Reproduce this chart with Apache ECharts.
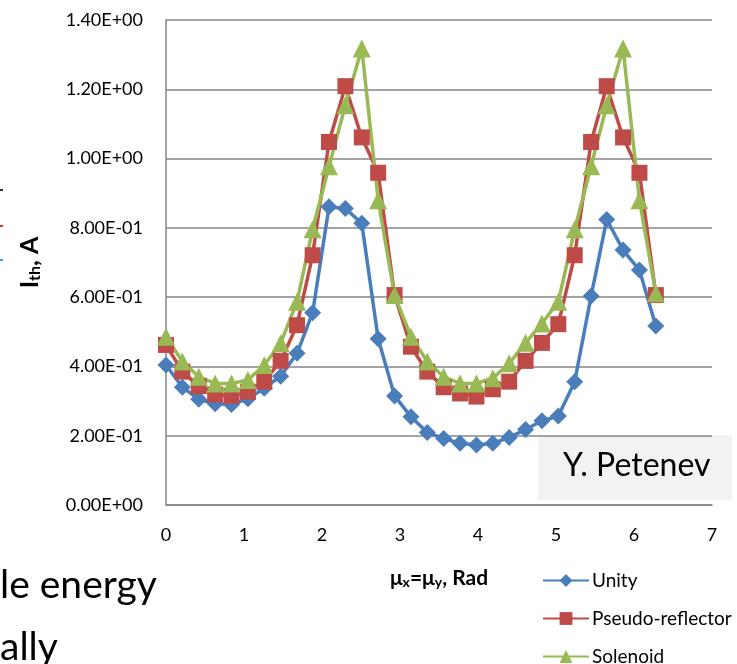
<!DOCTYPE html>
<html>
<head>
<meta charset="utf-8">
<script src="https://cdn.jsdelivr.net/npm/echarts@6/dist/echarts.min.js"></script>
<style>
  html, body { margin: 0; padding: 0; background: #fff; }
  #chart { width: 737px; height: 664px; }
</style>
</head>
<body>
<div id="chart"></div>
<script>
// phase advance mu, rad (31 points from 0 to 2*pi)
var mu = [0, 0.21, 0.42, 0.63, 0.84, 1.05, 1.26, 1.47, 1.68, 1.88, 2.09, 2.30, 2.51, 2.72, 2.93, 3.14,
          3.35, 3.56, 3.77, 3.98, 4.19, 4.40, 4.61, 4.82, 5.03, 5.24, 5.45, 5.65, 5.86, 6.07, 6.28];

var unity = [0.404, 0.34, 0.305, 0.292, 0.29, 0.307, 0.337, 0.372, 0.438, 0.555, 0.861, 0.856, 0.813, 0.48, 0.315, 0.255,
             0.209, 0.192, 0.178, 0.173, 0.178, 0.195, 0.218, 0.243, 0.257, 0.356, 0.603, 0.824, 0.736, 0.678, 0.517];

var pseudoReflector = [0.462, 0.385, 0.343, 0.319, 0.315, 0.327, 0.356, 0.416, 0.519, 0.721, 1.048, 1.209, 1.061, 0.959, 0.606, 0.457,
                       0.385, 0.34, 0.322, 0.313, 0.334, 0.356, 0.416, 0.468, 0.522, 0.721, 1.048, 1.209, 1.061, 0.959, 0.606];

var solenoid = [0.486, 0.414, 0.37, 0.351, 0.351, 0.361, 0.404, 0.467, 0.587, 0.796, 0.978, 1.154, 1.318, 0.88, 0.606, 0.486,
                0.414, 0.37, 0.351, 0.351, 0.366, 0.409, 0.468, 0.524, 0.587, 0.796, 0.978, 1.154, 1.318, 0.88, 0.611];

var seriesNames = ['Unity', 'Pseudo-reflector', 'Solenoid'];

function pairs(ys) {
    return mu.map(function (x, i) { return [x, ys[i]]; });
}

// Excel style scientific labels: 1.40E+00
function sci(v) {
    if (v === 0) return '0.00E+00';
    var e = Math.floor(Math.log10(Math.abs(v)) + 1e-9);
    var m = v / Math.pow(10, e);
    var s = e < 0 ? '-' : '+';
    var ea = Math.abs(e);
    return m.toFixed(2) + 'E' + s + (ea < 10 ? '0' : '') + ea;
}

var font = 'Lato, "Open Sans", sans-serif';

var myChart = echarts.init(document.getElementById('chart'));
myChart.setOption({
    animation: false,
    backgroundColor: '#ffffff',
    grid: { left: 166, right: 25, top: 20, bottom: 159 },
    xAxis: {
        type: 'value',
        min: 0, max: 7, interval: 1,
        name: '{b|μ}{s|x}{b|=μ}{s|y}{b|, Rad}',
        nameLocation: 'middle',
        nameGap: 62,
        nameTextStyle: {
            rich: {
                b: { fontFamily: font, fontSize: 21, fontWeight: 'bold', color: '#000' },
                s: { fontFamily: font, fontSize: 14, fontWeight: 'bold', color: '#000', padding: [8, 0, 0, 0] }
            }
        },
        axisLine: { show: true, lineStyle: { color: '#868686', width: 1.5 } },
        axisTick: { show: false },
        splitLine: { show: false },
        axisLabel: { margin: 21, fontFamily: font, fontSize: 18, color: '#000' }
    },
    yAxis: {
        type: 'value',
        min: 0, max: 1.4, interval: 0.2,
        name: '{b|I}{s|th}{b|, A}',
        nameLocation: 'middle',
        nameGap: 123,
        nameRotate: 90,
        nameTextStyle: {
            rich: {
                b: { fontFamily: font, fontSize: 25, fontWeight: 'bold', color: '#000' },
                s: { fontFamily: font, fontSize: 16, fontWeight: 'bold', color: '#000', padding: [10, 0, 0, 0] }
            }
        },
        axisLine: { show: true, lineStyle: { color: '#868686', width: 1.5 } },
        axisTick: { show: false },
        splitLine: { show: true, lineStyle: { color: '#868686', width: 1.5 } },
        axisLabel: { margin: 23, fontFamily: font, fontSize: 18, color: '#000', formatter: sci }
    },
    legend: {
        orient: 'vertical',
        left: 542,
        top: 570,
        height: 120,
        padding: 0,
        itemGap: 17,
        itemWidth: 46,
        itemHeight: 16,
        data: seriesNames,
        textStyle: { fontFamily: font, fontSize: 19, lineHeight: 21, color: '#000', padding: [0, 0, 0, -2] }
    },
    series: [
        {
            name: seriesNames[0], type: 'line', data: pairs(unity),
            symbol: 'diamond', symbolSize: 17,
            clip: false,
            lineStyle: { color: '#4a7ebb', width: 3.5 },
            itemStyle: { color: '#4a7ebb' }
        },
        {
            name: seriesNames[1], type: 'line', data: pairs(pseudoReflector),
            symbol: 'rect', symbolSize: 16,
            clip: false,
            lineStyle: { color: '#be4b48', width: 3.5 },
            itemStyle: { color: '#be4b48' }
        },
        {
            name: seriesNames[2], type: 'line', data: pairs(solenoid),
            symbol: 'triangle', symbolSize: 18,
            clip: false,
            lineStyle: { color: '#98b954', width: 3.5 },
            itemStyle: { color: '#98b954' }
        }
    ],
    graphic: [
        // author tag box
        { type: 'rect', left: 538, top: 435, shape: { width: 194, height: 65 }, style: { fill: '#f2f2f2' } },
        { type: 'text', left: 563, top: 450, style: { text: 'Y. Petenev', font: '32px ' + font, fill: '#000' } },
        // cropped slide text on the left
        { type: 'text', left: 0, top: 566, style: { text: 'le energy', font: '39px ' + font, fill: '#000' } },
        { type: 'text', left: 0, top: 628, style: { text: 'ally', font: '39px ' + font, fill: '#000' } },
        { type: 'rect', left: 0, top: 189, shape: { width: 3, height: 2 }, style: { fill: '#333' } },
        { type: 'rect', left: 0, top: 225, shape: { width: 3, height: 2 }, style: { fill: '#e03030' } },
        { type: 'rect', left: 0, top: 259, shape: { width: 3, height: 2 }, style: { fill: '#30b0e0' } }
    ]
});
</script>
</body>
</html>
